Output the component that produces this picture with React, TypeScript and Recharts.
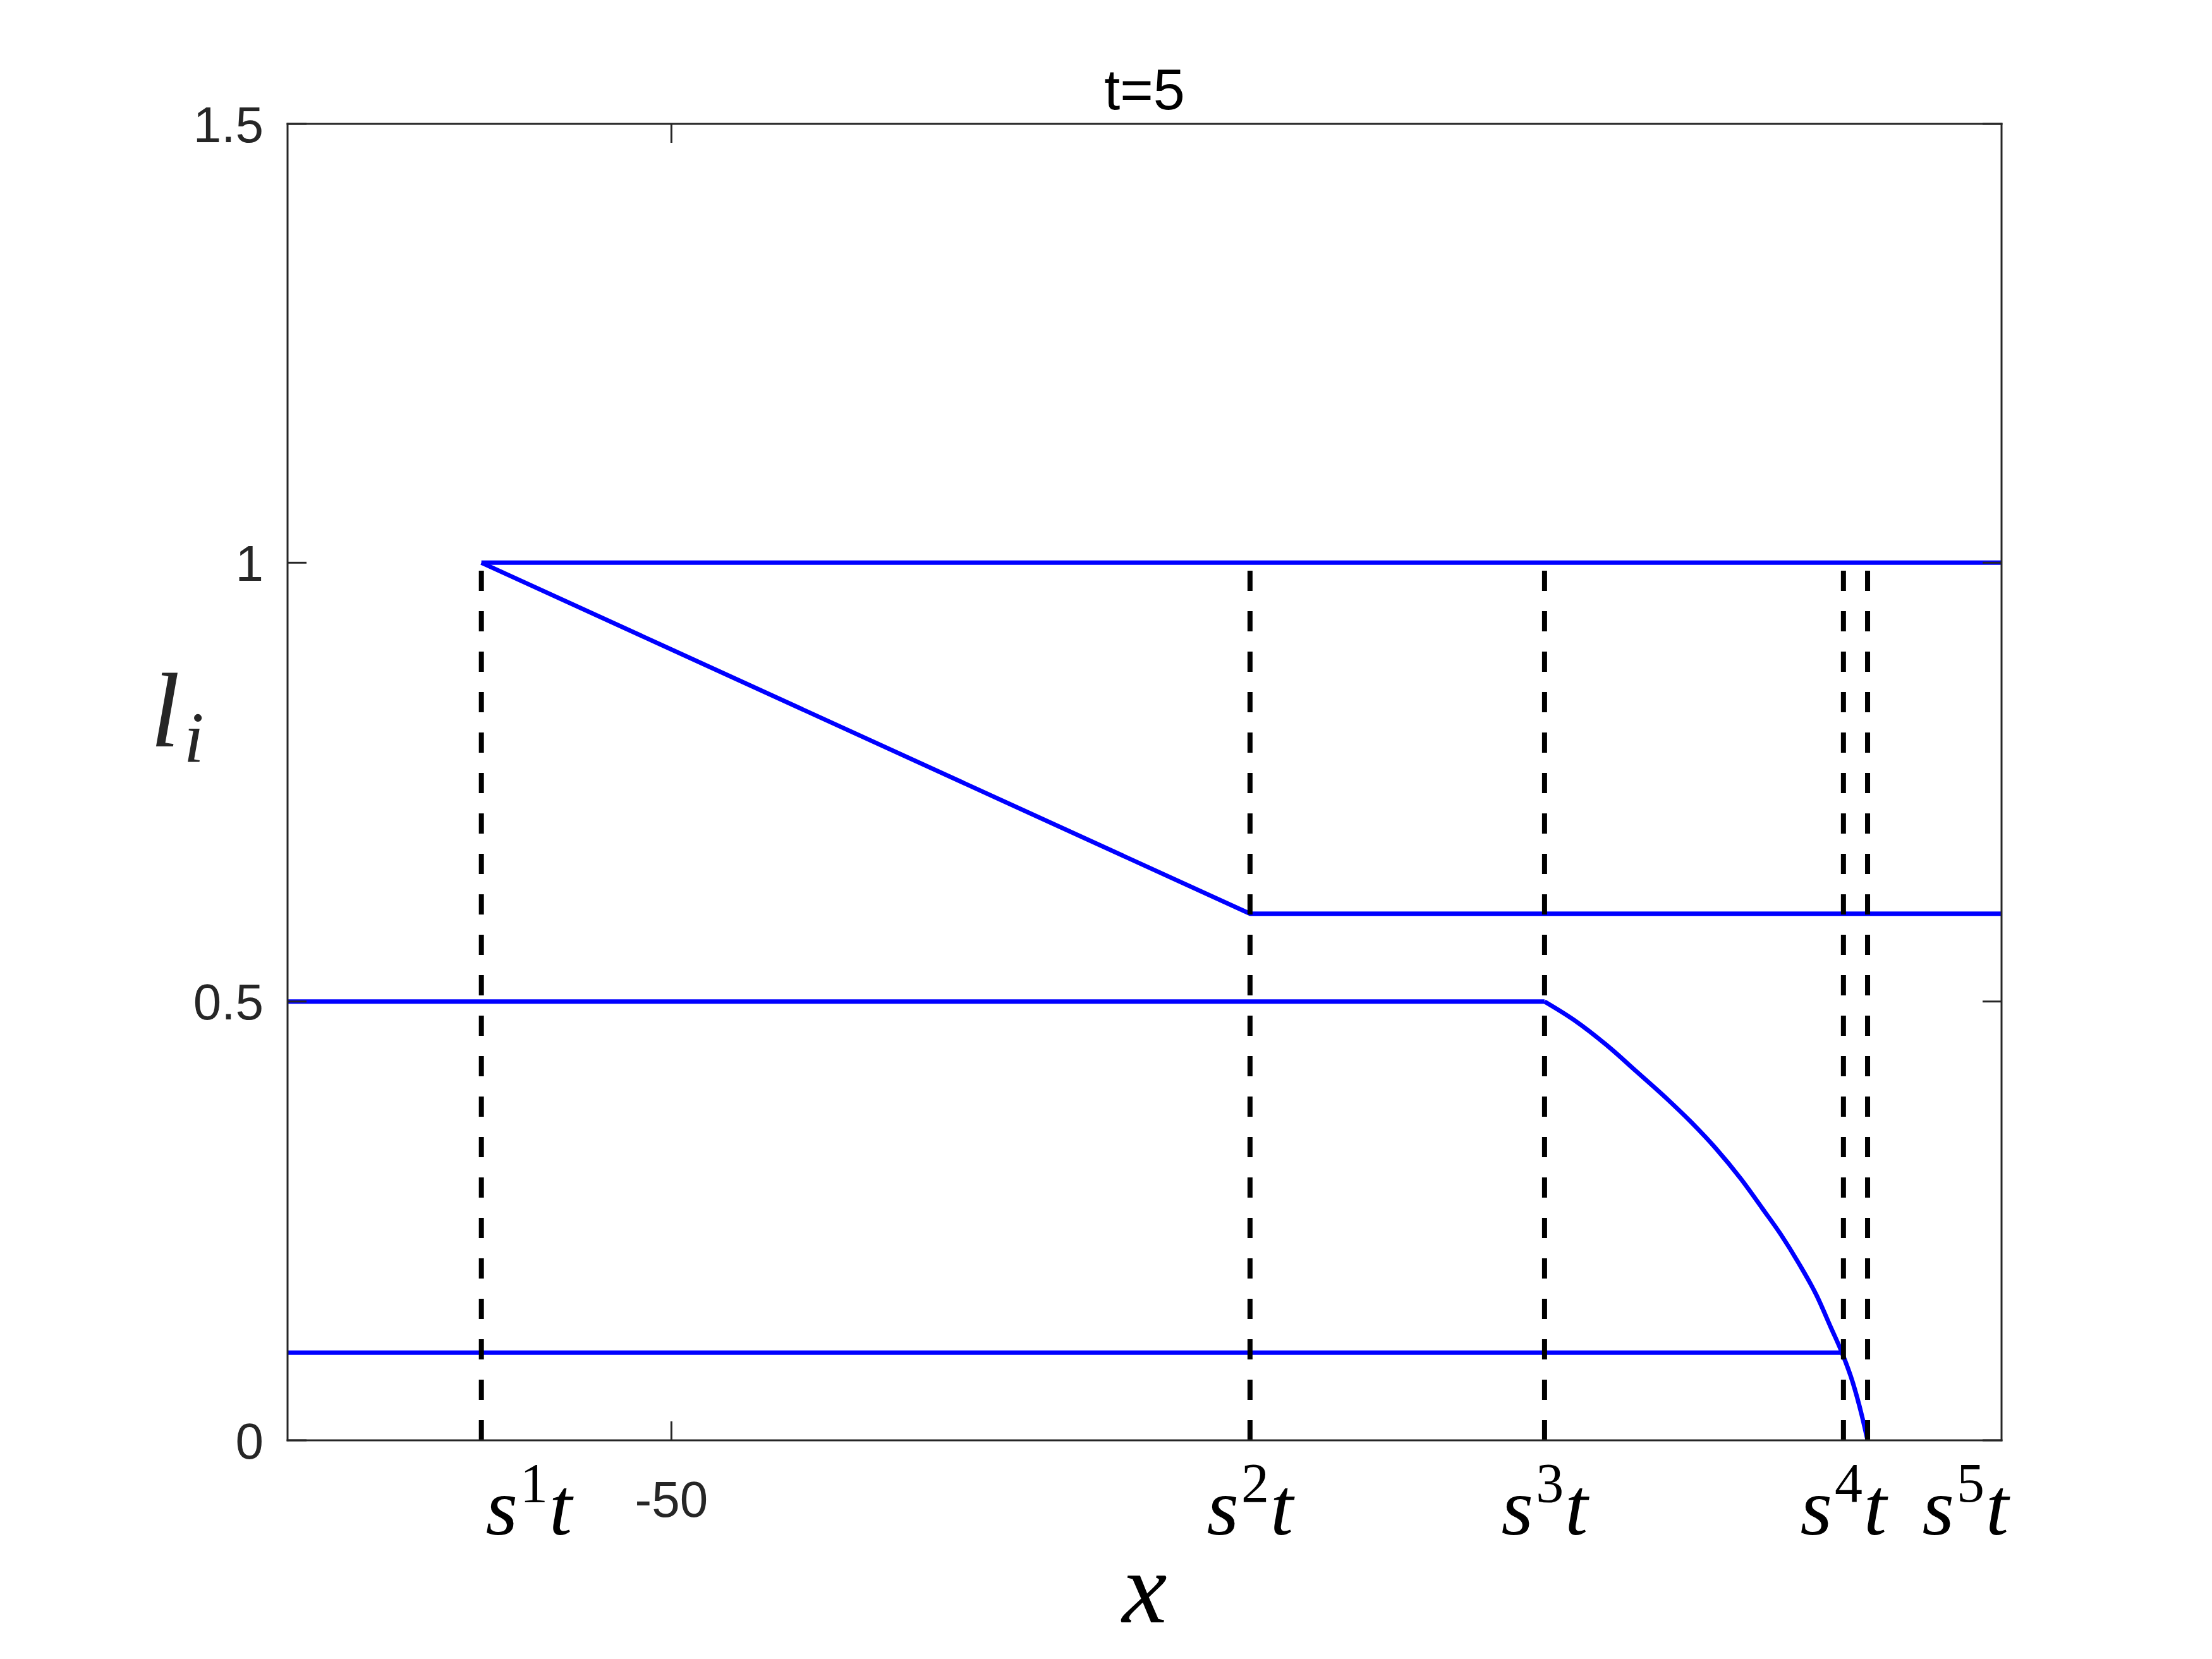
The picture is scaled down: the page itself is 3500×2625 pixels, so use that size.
import { LineChart, Line, XAxis, YAxis, Label } from "recharts";

// wave positions s^i t at t=5
const s1t = -60.0;
const s2t = -19.55;
const s3t = -4.05;
const s4t = 11.68;
const s5t = 12.95;

const xDomain: [number, number] = [-70.2, 20];
const yDomain: [number, number] = [0, 1.5];
const yTicks = [0, 0.5, 1, 1.5];

// bottom tick labels (s^i t labels are placed by hand, like text() calls)
const xTickValues = [-57.5, -50, -19.55, -4.05, 11.68, 18.1];
const xTickSup = ["1", "", "2", "3", "4", "5"];
const xTickText = ["s", "-50", "s", "s", "s", "s"];
const topTicks = [-50];

// blue state lines
const topLine = [
  { x: s1t, y: 1 },
  { x: 20, y: 1 },
];
const upperWave = [
  { x: s1t, y: 1 },
  { x: s2t, y: 0.6 },
  { x: 20, y: 0.6 },
];
const midFlat = [
  { x: -70.2, y: 0.5 },
  { x: s3t, y: 0.5 },
];
const bottomLine = [
  { x: -70.2, y: 0.1 },
  { x: s4t, y: 0.1 },
];
// rarefaction fan between s^3 t and s^5 t
const fanX = [-4.05, -2.5, -0.6, 0.75, 2.45, 3.6, 4.95, 6.28, 7.42, 8.37, 9.32, 10.27, 11.03, 11.6, 12.17, 12.64, 12.95];
const fanY = [0.5, 0.479, 0.447, 0.421, 0.388, 0.364, 0.333, 0.298, 0.264, 0.235, 0.202, 0.165, 0.128, 0.1, 0.066, 0.029, 0];
const fanCurve = fanX.map((x, i) => ({ x, y: fanY[i] }));

const waveXs = [s1t, s2t, s3t, s4t, s5t];

const AXIS = "#262626";
const TICK_LEN = 30;

const BottomTick = (props: any) => {
  const { x, y, payload } = props;
  const i = xTickValues.indexOf(payload.value);
  if (i < 0) return null;
  if (xTickSup[i] === "") {
    return (
      <g>
        <line x1={x} y1={y} x2={x} y2={y - TICK_LEN} stroke={AXIS} strokeWidth={3} />
        <text x={x} y={y + 121} textAnchor="middle" fontFamily="Liberation Sans, Arial" fontSize={80} fill={AXIS}>
          {xTickText[i]}
        </text>
      </g>
    );
  }
  return (
    <text x={x} y={y + 149} textAnchor="middle" fontFamily="Liberation Serif, serif" fontSize={130} fill="#000">
      <tspan fontStyle="italic">{xTickText[i]}</tspan>
      <tspan fontSize={88} dy={-52} dx={4}>{xTickSup[i]}</tspan>
      <tspan fontStyle="italic" dy={52} dx={2}>t</tspan>
    </text>
  );
};

const TopTick = (props: any) => {
  const { x, y } = props;
  return <line x1={x} y1={y} x2={x} y2={y + TICK_LEN} stroke={AXIS} strokeWidth={3} />;
};

const LeftTick = (props: any) => {
  const { x, y, payload } = props;
  return (
    <g>
      <line x1={x} y1={y} x2={x + TICK_LEN} y2={y} stroke={AXIS} strokeWidth={3} />
      <text x={x - 38} y={y} dy="0.36em" textAnchor="end" fontFamily="Liberation Sans, Arial" fontSize={80} fill={AXIS}>
        {String(payload.value)}
      </text>
    </g>
  );
};

const RightTick = (props: any) => {
  const { x, y } = props;
  return <line x1={x} y1={y} x2={x - TICK_LEN} y2={y} stroke={AXIS} strokeWidth={3} />;
};

const axisLineStyle = { stroke: AXIS, strokeWidth: 3, strokeLinecap: "square" as const };

export default function App() {
  return (
    <div style={{ position: "absolute", left: 0, top: 0, width: 3500, height: 2625, background: "#fff" }}>
      <LineChart width={3500} height={2625} margin={{ top: 195, right: 332, bottom: 345, left: 454 }}>
        <XAxis
          xAxisId={0}
          type="number"
          dataKey="x"
          domain={xDomain}
          allowDataOverflow
          ticks={xTickValues}
          interval={0}
          height={1}
          tickSize={0}
          tickMargin={0}
          tickLine={false}
          axisLine={axisLineStyle}
          tick={<BottomTick />}
        >
          <Label
            content={(p: any) => {
              const vb = p.viewBox;
              return (
                <text x={vb.x + vb.width / 2} y={vb.y + 288} textAnchor="middle" fontFamily="Liberation Serif, serif" fontStyle="italic" fontSize={160} fill="#000">
                  x
                </text>
              );
            }}
          />
        </XAxis>
        <XAxis
          xAxisId="top"
          orientation="top"
          type="number"
          dataKey="x"
          domain={xDomain}
          allowDataOverflow
          ticks={topTicks}
          interval={0}
          height={1}
          tickSize={0}
          tickMargin={0}
          tickLine={false}
          axisLine={axisLineStyle}
          tick={<TopTick />}
        >
          <Label
            content={(p: any) => {
              const vb = p.viewBox;
              return (
                <text x={vb.x + vb.width / 2} y={vb.y + vb.height - 23} textAnchor="middle" fontFamily="Liberation Sans, Arial" fontSize={90} fill="#000">
                  t=5
                </text>
              );
            }}
          />
        </XAxis>
        <YAxis
          yAxisId={0}
          type="number"
          domain={yDomain}
          allowDataOverflow
          ticks={yTicks}
          interval={0}
          width={1}
          tickSize={0}
          tickMargin={0}
          tickLine={false}
          axisLine={axisLineStyle}
          tick={<LeftTick />}
        >
          <Label
            content={(p: any) => {
              const vb = p.viewBox;
              return (
                <text x={vb.x + vb.width - 217} y={vb.y + vb.height / 2 - 57} fontFamily="Liberation Serif, serif" fontStyle="italic" fontSize={168} fill="#262626">
                  l
                  <tspan fontSize={115} dy={25} dx={6}>i</tspan>
                </text>
              );
            }}
          />
        </YAxis>
        <YAxis
          yAxisId="right"
          orientation="right"
          type="number"
          domain={yDomain}
          allowDataOverflow
          ticks={yTicks}
          interval={0}
          width={1}
          tickSize={0}
          tickMargin={0}
          tickLine={false}
          axisLine={axisLineStyle}
          tick={<RightTick />}
        />

        <Line data={topLine} dataKey="y" type="linear" stroke="#0000ff" strokeWidth={7} dot={false} activeDot={false} isAnimationActive={false} />
        <Line data={upperWave} dataKey="y" type="linear" stroke="#0000ff" strokeWidth={7} dot={false} activeDot={false} isAnimationActive={false} />
        <Line data={midFlat} dataKey="y" type="linear" stroke="#0000ff" strokeWidth={7} dot={false} activeDot={false} isAnimationActive={false} />
        <Line data={fanCurve} dataKey="y" type="monotone" stroke="#0000ff" strokeWidth={7} dot={false} activeDot={false} isAnimationActive={false} />
        <Line data={bottomLine} dataKey="y" type="linear" stroke="#0000ff" strokeWidth={7} dot={false} activeDot={false} isAnimationActive={false} />

        {waveXs.map((s, i) => (
          <Line
            key={i}
            data={[
              { x: s, y: 0 },
              { x: s, y: 1 },
            ]}
            dataKey="y"
            type="linear"
            stroke="#000"
            strokeWidth={8}
            strokeDasharray="32 32"
            dot={false}
            activeDot={false}
            isAnimationActive={false}
          />
        ))}
      </LineChart>
    </div>
  );
}
